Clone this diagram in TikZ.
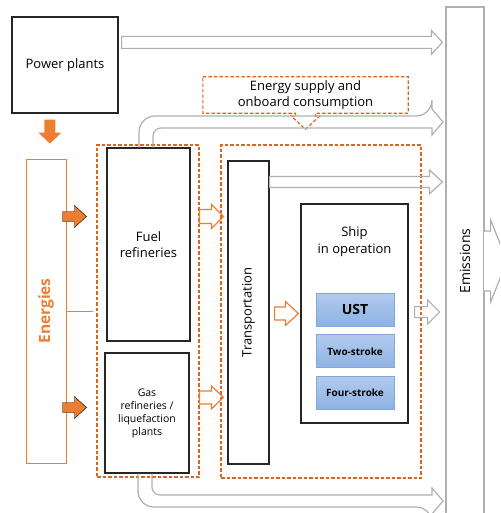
\documentclass[tikz,border=0pt]{standalone}
\usepackage{fontspec}
\setmainfont{Open Sans}
\usetikzlibrary{calc, positioning}

\definecolor{accent}{RGB}{237,125,49}
\definecolor{dashorange}{RGB}{220,100,30}
\definecolor{arrowgray}{RGB}{175,175,175}
\definecolor{bluetop}{RGB}{178,202,236}
\definecolor{bluebot}{RGB}{141,179,227}
\definecolor{blueline}{RGB}{128,168,222}

% horizontal block arrow: style, from, tip, shaft half, head half, head length
\newcommand{\hblockarrow}[6]{%
  \draw[#1] let \p1=(#2), \p2=(#3) in
    (\x1,{\y1+#4}) -- ({\x2-#6},{\y1+#4}) -- ({\x2-#6},{\y1+#5}) -- (\x2,\y1)
    -- ({\x2-#6},{\y1-#5}) -- ({\x2-#6},{\y1-#4}) -- (\x1,{\y1-#4}) -- cycle;}

\begin{document}
\begin{tikzpicture}[x=1pt, y=-1pt, font=\fontsize{13}{16.5}\selectfont,
  box/.style={draw=black!85, line width=1.2pt, align=center, inner sep=0pt},
  dashbox/.style={draw=dashorange, line width=1.1pt, dash pattern=on 3.5pt off 2pt},
  grayarr/.style={draw=arrowgray, line width=1.2pt},
  openarr/.style={draw=accent, line width=1.2pt},
  fillarr/.style={fill=accent},
  bluebox/.style={draw=blueline, line width=0.8pt, top color=bluetop, bottom color=bluebot,
    minimum width=78pt, minimum height=33pt, font=\bfseries\fontsize{10}{12}\selectfont}]
  \useasboundingbox (0,0) rectangle (500,513);
  \clip (0,0) rectangle (500,513);

  % left column
  \node[box, minimum width=106pt, minimum height=96pt] (power) at (65,65) {Power plants};
  \node[draw=accent, line width=1pt, minimum width=40pt, minimum height=304pt] (energies) at (46,311) {};
  \node[rotate=90, text=accent, font=\bfseries\fontsize{15.5}{17}\selectfont] (energieslabel) at (energies) {Energies};

  % refineries
  \node[dashbox, minimum width=102pt, minimum height=332pt] (refgrp) at (148,311) {};
  \node[box, minimum width=83pt, minimum height=193pt] (fuel) at (148.5,244.5) {Fuel\\refineries};
  \node[box, minimum width=84pt, minimum height=120pt, font=\fontsize{10.5}{13}\selectfont] (gas) at (147,413)
    {Gas\\refineries /\\liquefaction\\plants};

  % operation
  \node[dashbox, minimum width=200pt, minimum height=333pt] (opgrp) at (321,311.5) {};
  \node[box, minimum width=41pt, minimum height=303pt] (trans) at (248.5,312.5) {};
  \node[rotate=90, font=\fontsize{13}{15}\selectfont] (translabel) at (trans) {Transportation};
  \node[box, minimum width=107pt, minimum height=219pt] (ship) at (354.5,313.5) {};
  \node[align=center] (shiplabel) at ($(ship.north)+(0,38)$) {Ship\\in operation};
  \node[bluebox, font=\bfseries\fontsize{14}{16}\selectfont] (ust) at (355,309.5) {UST};
  \node[bluebox, below=8pt of ust] (two) {Two-stroke};
  \node[bluebox, below=8pt of two] (four) {Four-stroke};

  % emissions
  \node[grayarr, minimum width=38pt, minimum height=508pt] (emis) at (465,261) {};
  \node[rotate=90, font=\fontsize{14}{16}\selectfont] (emislabel) at (emis) {Emissions};
  \fill[white] ($(emis.east)+(-0.7,-29.4)$) rectangle ($(emis.east)+(6,29.4)$);
  \draw[grayarr] ($(emis.east)+(0,-30)$) -- ++(6,0) -- ++(0,-11) -- ($(emis.east)+(22.5,0)$)
    -- ($(emis.east)+(6,41)$) -- ++(0,-11) -- ++(-6,0);

  % energy supply callout
  \node[minimum width=205pt, minimum height=34pt, align=center] (supply) at (305.5,95)
    {Energy supply and\\onboard consumption};
  \draw[dashbox] (supply.north west) -- (supply.north east) -- (supply.south east)
    -- ($(supply.south)+(10,0)$) -- ++(0,3) -- ++(4,0) -- ($(supply.south)+(0,16)$)
    -- ++(-14,-13) -- ++(4,0) -- ++(0,-3) -- (supply.south west) -- cycle;

  % orange arrows
  \coordinate (pdown) at ($(power.south west)+(38.5,6)$);
  \fill[fillarr] (pdown) ++(-5.5,0) -- ++(11,0) -- ++(0,13) -- ++(6,0) -- ($(pdown)+(0,24)$)
    -- ++(-11.5,-11) -- ++(6,0) -- cycle;
  \coordinate (ejoin) at ($(energies.east)+(26,0)$);
  \draw[accent, line width=1pt] (energies.east) -- (ejoin);
  \coordinate (e1) at ($(energies.north east)+(-4,58)$);
  \coordinate (e2) at ($(energies.south east)+(-4,-56)$);
  \hblockarrow{fillarr}{e1}{$(e1)+(24,0)$}{5pt}{11pt}{12pt}
  \hblockarrow{fillarr}{e2}{$(e2)+(24,0)$}{5pt}{11pt}{12pt}
  \coordinate (g1) at ($(gas.north)+(0,45)$);
  \hblockarrow{openarr}{refgrp.east |- e1}{$(opgrp.west |- e1)+(3,0)$}{7pt}{12pt}{12pt}
  \hblockarrow{openarr}{refgrp.east |- g1}{$(opgrp.west |- g1)+(3,0)$}{6.5pt}{11.5pt}{12pt}
  \hblockarrow{openarr}{$(trans.east |- ship.east)+(5,0)$}{$(ship.west)+(-2,0)$}{6.5pt}{12pt}{13pt}

  % gray arrows to emissions
  \hblockarrow{grayarr}{$(power.north east)+(3,26)$}{$(emis.west)+(-3,0)$}{6pt}{12pt}{11pt}
  \hblockarrow{grayarr}{$(trans.north east)+(0,21.5)$}{$(emis.west)+(-3,0)$}{5.5pt}{12pt}{13pt}
  \hblockarrow{grayarr}{$(ship.east)+(6,-1.5)$}{$(ship.east)+(31,0)$}{5.5pt}{12pt}{12pt}
  \draw[grayarr] ($(fuel.north)+(-9.5,0)$) [rounded corners=16] |- (432,116) [sharp corners]
    -- (432,109) -- (443,122) -- (432,135) -- (432,128) [rounded corners=8] -| ($(fuel.north)+(4.5,0)$);
  \draw[grayarr] ($(gas.south)+(-9,0)$) [rounded corners=16] |- (432,507) [sharp corners]
    -- (432,514) -- (443,501) -- (432,488) -- (432,495) [rounded corners=8] -| ($(gas.south)+(5,0)$);
\end{tikzpicture}
\end{document}
